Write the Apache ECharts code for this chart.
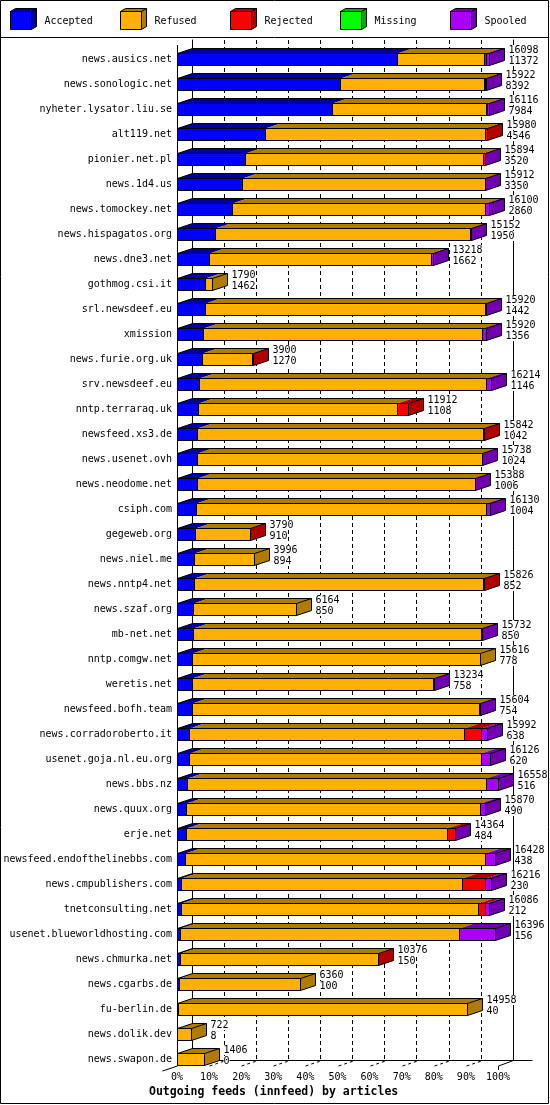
<!DOCTYPE html>
<html>
<head>
<meta charset="utf-8">
<script src="https://cdn.jsdelivr.net/npm/echarts@6/dist/echarts.min.js"></script>
<style>
html,body{margin:0;padding:0;background:#fff;}
#chart{width:550px;height:1105px;}
</style>
</head>
<body>
<div id="chart"></div>
<script>
const hosts = [
  'news.ausics.net','news.sonologic.net','nyheter.lysator.liu.se','alt119.net','pionier.net.pl',
  'news.1d4.us','news.tomockey.net','news.hispagatos.org','news.dne3.net','gothmog.csi.it',
  'srl.newsdeef.eu','xmission','news.furie.org.uk','srv.newsdeef.eu','nntp.terraraq.uk',
  'newsfeed.xs3.de','news.usenet.ovh','news.neodome.net','csiph.com','gegeweb.org',
  'news.niel.me','news.nntp4.net','news.szaf.org','mb-net.net','nntp.comgw.net',
  'weretis.net','newsfeed.bofh.team','news.corradoroberto.it','usenet.goja.nl.eu.org','news.bbs.nz',
  'news.quux.org','erje.net','newsfeed.endofthelinebbs.com','news.cmpublishers.com','tnetconsulting.net',
  'usenet.blueworldhosting.com','news.chmurka.net','news.cgarbs.de','fu-berlin.de','news.dolik.dev',
  'news.swapon.de'
];
const offered = [
  16098,15922,16116,15980,15894,15912,16100,15152,13218,1790,
  15920,15920,3900,16214,11912,15842,15738,15388,16130,3790,
  3996,15826,6164,15732,15616,13234,15604,15992,16126,16558,
  15870,14364,16428,16216,16086,16396,10376,6360,14958,722,
  1406
];
const accepted = [
  11372,8392,7984,4546,3520,3350,2860,1950,1662,1462,
  1442,1356,1270,1146,1108,1042,1024,1006,1004,910,
  894,852,850,850,778,758,754,638,620,516,
  490,484,438,230,212,156,150,100,40,8,
  0
];
const refused = [
  4476,7420,7962,11334,12264,12532,13040,13172,11426,328,
  14448,14364,2620,14798,10254,14740,14684,14352,14936,2870,
  3102,14944,5314,14852,14838,12446,14820,14144,15056,15422,
  15160,13440,15440,14476,15334,14390,10216,6260,14918,714,
  1406
];
const rejected = [
  80,80,20,100,80,0,0,0,0,0,
  0,0,10,0,550,60,0,0,0,10,
  0,30,0,0,0,0,0,900,0,0,
  0,410,0,1170,340,0,10,0,0,0,
  0
];
const missing = [
  0,0,0,0,0,0,0,0,0,0,
  0,0,0,0,0,0,0,0,0,0,
  0,0,0,0,0,0,0,0,0,0,
  0,0,0,0,0,0,0,0,0,0,
  0
];
const spooled = [
  170,30,150,0,30,30,200,30,130,0,
  30,200,0,270,0,0,30,30,190,0,
  0,0,0,30,0,30,30,310,450,620,
  220,30,550,340,200,1850,0,0,0,0,
  0
];
const seriesNames = ['Accepted','Refused','Rejected','Missing','Spooled'];
const titleText = 'Outgoing feeds (innfeed) by articles';

const faceColors = ['#0000ff','#ffb000','#ff0000','#00ff00','#aa00ff'];
const darkColors = ['#0000a0','#b07c00','#b00000','#00b000','#7000b0'];
const FONT = '"DejaVu Sans Mono", "Liberation Mono", monospace';
const DX = 15, DY = 5;

const MAXV = Math.max.apply(null, offered);
const rowsData = hosts.map((h, i) => [i, accepted[i], refused[i], rejected[i], missing[i], spooled[i], offered[i]]);

function renderBar(params, api) {
  const r = api.value(0);
  const vals = [api.value(1), api.value(2), api.value(3), api.value(4), api.value(5)];
  const off = api.value(6);
  const acc = api.value(1);
  const base = api.coord([0, r]);
  const cy = Math.round(base[1]);
  const yT = cy - 6 + 0.5, yB = cy + 6 + 0.5;
  const px = v => Math.round(api.coord([v, r])[0]) + 0.5;
  const X0 = px(0);
  const tops = [], fronts = [];
  let cum = 0, Xprev = X0, lastIdx = -1;
  for (let s = 0; s < 5; s++) {
    const v = vals[s];
    if (!(v > 0)) continue;
    cum += v;
    const X = px(cum);
    tops.push({type:'polygon', shape:{points:[[Xprev,yT],[X,yT],[X+DX,yT-DY],[Xprev+DX,yT-DY]]},
      style:{fill:darkColors[s], stroke:null}});
    fronts.push({type:'rect', shape:{x:Xprev, y:yT, width:X-Xprev, height:yB-yT},
      style:{fill:faceColors[s], stroke:'#000', lineWidth:1}});
    Xprev = X;
    lastIdx = s;
  }
  const Xe = Xprev;
  const children = tops.concat(fronts);
  if (lastIdx >= 0) {
    children.push({type:'polygon', shape:{points:[[Xe,yT],[Xe+DX,yT-DY],[Xe+DX,yB-DY],[Xe,yB]]},
      style:{fill:darkColors[lastIdx], stroke:'#000', lineWidth:1}});
    children.push({type:'polyline', shape:{points:[[X0,yT],[X0+DX,yT-DY],[Xe+DX,yT-DY]]},
      style:{fill:null, stroke:'#000', lineWidth:1}});
  }
  const tx = Xe + DX + 4;
  children.push({type:'text', z2:10, style:{text:String(off), x:tx, y:cy-9, font:'10px ' + FONT,
    fill:'#000', textAlign:'left', textVerticalAlign:'middle', backgroundColor:'#fff'}});
  children.push({type:'text', z2:10, style:{text:String(acc), x:tx, y:cy+2, font:'10px ' + FONT,
    fill:'#000', textAlign:'left', textVerticalAlign:'middle', backgroundColor:'#fff'}});
  return {type:'group', children};
}

function renderFrame(params, api) {
  const first = api.coord([0, 0]);
  const last = api.coord([0, hosts.length - 1]);
  const X0 = Math.round(first[0]) + 0.5;
  const Xm = Math.round(api.coord([MAXV, 0])[0]) + 0.5;
  const cyL = Math.round(last[1]);
  const yF = cyL + 7;
  const yBk = yF - DY - 0.5;
  const children = [];
  children.push({type:'line', shape:{x1:X0, y1:Math.round(first[1]) - 14, x2:X0, y2:yF}, style:{stroke:'#000', lineWidth:1}});
  children.push({type:'line', shape:{x1:X0 - DX, y1:yF + DY, x2:X0, y2:yF}, style:{stroke:'#000', lineWidth:1}});
  children.push({type:'line', shape:{x1:X0 + DX, y1:yBk, x2:Xm + DX + 19, y2:yBk}, style:{stroke:'#000', lineWidth:1}});
  children.push({type:'line', shape:{x1:Xm + DX, y1:yBk, x2:Xm, y2:yF}, style:{stroke:'#000', lineWidth:1}});
  for (let k = 1; k < 10; k++) {
    const X = Math.round(api.coord([MAXV * k / 10, 0])[0]) + 0.5;
    children.push({type:'line', shape:{x1:X, y1:yF, x2:X + DX, y2:yF - DY}, style:{stroke:'#000', lineWidth:1, lineDash:[3,3]}});
  }
  children.push({type:'line', shape:{x1:Xm, y1:yF, x2:Xm, y2:yF + 4}, style:{stroke:'#000', lineWidth:1}});
  return {type:'group', children};
}

const legendGraphics = [];
seriesNames.forEach((name, i) => {
  const x = 10.5 + 110 * i, y = 11.5, w = 21, h = 18, d = 5, e = 3;
  legendGraphics.push({type:'polygon', shape:{points:[[x,y],[x+d,y-e],[x+w+d,y-e],[x+w,y]]}, style:{fill:darkColors[i], stroke:'#000', lineWidth:1}});
  legendGraphics.push({type:'polygon', shape:{points:[[x+w,y],[x+w+d,y-e],[x+w+d,y+h-e],[x+w,y+h]]}, style:{fill:darkColors[i], stroke:'#000', lineWidth:1}});
  legendGraphics.push({type:'rect', shape:{x:x, y:y, width:w, height:h}, style:{fill:faceColors[i], stroke:'#000', lineWidth:1}});
  legendGraphics.push({type:'text', style:{text:name, x:x + 34, y:21, font:'10px ' + FONT, fill:'#000', textVerticalAlign:'middle'}});
});
legendGraphics.push({type:'line', shape:{x1:0, y1:37.5, x2:549, y2:37.5}, style:{stroke:'#000', lineWidth:1}});
legendGraphics.push({type:'rect', shape:{x:0.5, y:0.5, width:548, height:1103}, style:{fill:null, stroke:'#000', lineWidth:1}});

const chart = echarts.init(document.getElementById('chart'), null, {renderer:'canvas'});
chart.setOption({
  animation: false,
  backgroundColor: '#fff',
  title: {
    text: titleText, left: 149, top: 1086, padding: 0,
    textStyle: {fontFamily: FONT, fontWeight: 'bold', fontSize: 11.5, color: '#000'}
  },
  grid: [
    {left: 177, top: 46.5, width: 321, height: 1025, containLabel: false},
    {left: 192, top: 40, width: 321, height: 1020.5, containLabel: false}
  ],
  xAxis: [
    {type:'value', gridIndex:0, min:0, max:MAXV, interval:MAXV/10,
     axisLine:{show:false}, axisTick:{show:false}, splitLine:{show:false},
     axisLabel:{margin:1, fontFamily:FONT, fontSize:10, color:'#000',
       formatter: v => Math.round(v / MAXV * 100) + '%'}},
    {type:'value', gridIndex:1, min:0, max:MAXV, interval:MAXV/10,
     axisLine:{show:false}, axisTick:{show:false}, axisLabel:{show:false},
     splitLine:{show:true, lineStyle:{color:'#000', width:1, type:[4,3]}}}
  ],
  yAxis: [
    {type:'category', gridIndex:0, inverse:true, data:hosts,
     axisLine:{show:false}, axisTick:{show:false}, splitLine:{show:false},
     axisLabel:{margin:5, fontFamily:FONT, fontSize:10, color:'#000', interval:0}},
    {type:'value', gridIndex:1, position:'left', min:0, max:1,
     axisLine:{show:true, lineStyle:{color:'#000', width:1}}, axisTick:{show:false},
     axisLabel:{show:false}, splitLine:{show:false}},
    {type:'value', gridIndex:1, position:'right', min:0, max:1,
     axisLine:{show:true, lineStyle:{color:'#000', width:1}}, axisTick:{show:false},
     axisLabel:{show:false}, splitLine:{show:false}}
  ],
  graphic: legendGraphics,
  series: [
    {type:'custom', name:'frame', xAxisIndex:0, yAxisIndex:0, z:1, silent:true,
     renderItem: renderFrame, data:[[0,0]], encode:{x:0, y:1}},
    {type:'custom', name:'feeds', xAxisIndex:0, yAxisIndex:0, z:2,
     renderItem: renderBar, data: rowsData, encode:{x:6, y:0}}
  ]
});
</script>
</body>
</html>
